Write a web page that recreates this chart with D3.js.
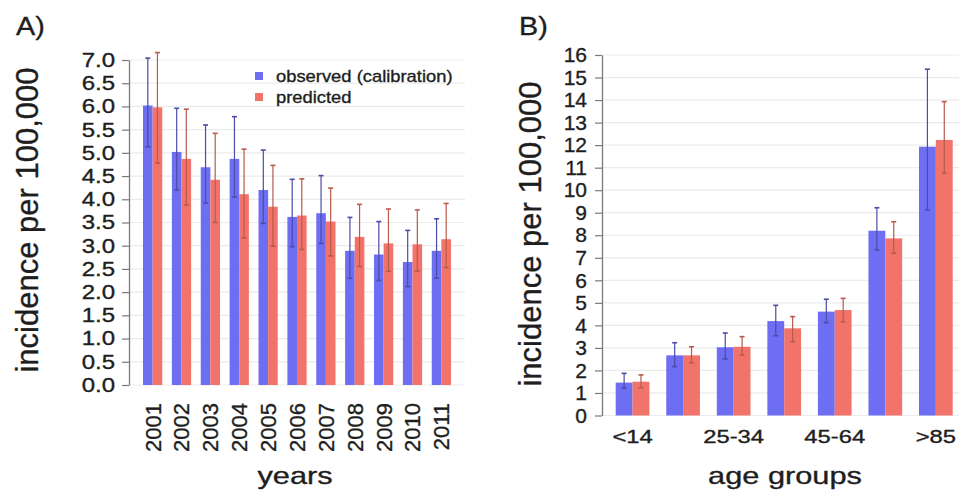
<!DOCTYPE html>
<html>
<head>
<meta charset="utf-8">
<script src="https://cdn.jsdelivr.net/npm/d3@7"></script>
<style>
  body { margin: 0; background: #fff; }
  svg { display: block; font-family: "Liberation Sans", Arial, sans-serif; }
  svg text { stroke: #1e1e1e; stroke-width: 0.35px; }
</style>
</head>
<body>
<div id="chart"></div>
<script>
// panel A: incidence by year
const years = ["2001", "2002", "2003", "2004", "2005", "2006", "2007", "2008", "2009", "2010", "2011"];
const yearObs   = [6.02, 5.02, 4.69, 4.87, 4.20, 3.62, 3.70, 2.89, 2.81, 2.65, 2.89];
const yearObsLo = [5.13, 4.20, 3.92, 4.05, 3.48, 2.98, 3.05, 2.30, 2.25, 2.12, 2.30];
const yearObsHi = [7.04, 5.96, 5.60, 5.78, 5.06, 4.43, 4.51, 3.61, 3.52, 3.33, 3.58];
const yearPred   = [5.98, 4.87, 4.42, 4.11, 3.84, 3.65, 3.52, 3.19, 3.05, 3.03, 3.14];
const yearPredLo = [4.78, 3.88, 3.50, 3.17, 2.99, 2.92, 2.78, 2.55, 2.45, 2.45, 2.53];
const yearPredHi = [7.16, 5.94, 5.42, 5.08, 4.73, 4.44, 4.24, 3.89, 3.79, 3.77, 3.91];
const yTicksA = [0, 0.5, 1, 1.5, 2, 2.5, 3, 3.5, 4, 4.5, 5, 5.5, 6, 6.5, 7];

// panel B: incidence by age group
const ageGroups = ["<14", "15-24", "25-34", "35-44", "45-64", "65-84", ">85"];
const ageShown  = ["<14", "25-34", "45-64", ">85"];
const ageObs   = [1.46, 2.67, 3.03, 4.19, 4.61, 8.20, 11.93];
const ageObsLo = [1.21, 2.17, 2.51, 3.54, 4.12, 7.35, 9.12];
const ageObsHi = [1.87, 3.23, 3.66, 4.89, 5.16, 9.22, 15.37];
const agePred   = [1.50, 2.67, 3.05, 3.87, 4.68, 7.86, 12.23];
const agePredLo = [1.23, 2.34, 2.69, 3.28, 4.16, 7.20, 10.75];
const agePredHi = [1.80, 3.05, 3.50, 4.39, 5.20, 8.60, 13.93];
const yTicksB = [0, 1, 2, 3, 4, 5, 6, 7, 8, 9, 10, 11, 12, 13, 14, 15, 16];

const seriesNames = ["observed (calibration)", "predicted"];
const barColors = ["#6e6ef2", "#f2736a"];
const errColors = ["#4c4ca8", "#b85a4c"];
const textColor = "#1e1e1e";

const W = 959, H = 496;
const svg = d3.select("#chart").append("svg")
  .attr("width", W)
  .attr("height", H);

// wide-looking text in the original: stretch glyphs horizontally
function widen(sel, k) {
  sel.each(function() {
    const len = this.getComputedTextLength();
    d3.select(this)
      .attr("textLength", len * k)
      .attr("lengthAdjust", "spacingAndGlyphs");
  });
}

function panel(cfg) {
  const g = svg.append("g");

  const y = d3.scaleLinear().domain(cfg.yDomain).range([cfg.bottom, cfg.top]);
  const x = d3.scaleBand()
    .domain(cfg.cats)
    .range([cfg.barLeft, cfg.barRight])
    .paddingInner(1 / 3)
    .paddingOuter(0);
  const inner = d3.scaleBand().domain([0, 1]).range([0, x.bandwidth()]);

  // grid
  g.append("g").selectAll("line")
    .data(cfg.yTicks)
    .join("line")
    .attr("x1", cfg.axisX + 1)
    .attr("x2", cfg.gridRight)
    .attr("y1", d => y(d))
    .attr("y2", d => y(d))
    .attr("stroke", "#ebebeb")
    .attr("stroke-width", 1.2);

  // bars
  const rows = cfg.cats.map((c, i) => ({
    cat: c,
    vals: cfg.series.map(s => ({ v: s.v[i], lo: s.lo[i], hi: s.hi[i] }))
  }));

  const grp = g.append("g").selectAll("g")
    .data(rows)
    .join("g")
    .attr("transform", d => `translate(${x(d.cat)},0)`);

  grp.selectAll("rect")
    .data(d => d.vals)
    .join("rect")
    .attr("x", (d, i) => inner(i))
    .attr("y", d => y(d.v))
    .attr("width", inner.bandwidth())
    .attr("height", d => y(0) - y(d.v))
    .attr("fill", (d, i) => barColors[i]);

  // error bars
  const eb = grp.selectAll("g.err")
    .data(d => d.vals)
    .join("g")
    .attr("class", "err")
    .attr("stroke", (d, i) => errColors[i])
    .attr("stroke-width", 1.2)
    .attr("transform", (d, i) => `translate(${inner(i) + inner.bandwidth() / 2},0)`);
  eb.append("line")
    .attr("y1", d => y(d.lo))
    .attr("y2", d => y(d.hi));
  eb.append("line")
    .attr("x1", -2.5).attr("x2", 2.5)
    .attr("y1", d => y(d.hi)).attr("y2", d => y(d.hi))
    .attr("stroke-width", 1.6);
  eb.append("line")
    .attr("x1", -2.5).attr("x2", 2.5)
    .attr("y1", d => y(d.lo)).attr("y2", d => y(d.lo))
    .attr("stroke-width", 1.6);

  // y axis
  const ya = g.append("g")
    .attr("transform", `translate(${cfg.axisX},0)`)
    .call(d3.axisLeft(y)
      .tickValues(cfg.yTicks)
      .tickFormat(cfg.yFormat)
      .tickSize(cfg.tickSize)
      .tickSizeOuter(0)
      .tickPadding(cfg.tickPad));
  ya.select(".domain").attr("stroke", "#7a7a7a").attr("stroke-width", 1.3);
  ya.selectAll(".tick line").attr("stroke", "#7a7a7a").attr("stroke-width", 1.2);
  ya.selectAll(".tick text")
    .attr("font-size", cfg.yTickFont)
    .attr("fill", textColor)
    .call(widen, cfg.yTickWiden);

  // x labels
  const xa = g.append("g")
    .attr("transform", `translate(0,${y(0)})`)
    .call(d3.axisBottom(x).tickSize(0).tickFormat(cfg.xFormat));
  xa.select(".domain").remove();
  const xt = xa.selectAll(".tick text")
    .attr("font-size", cfg.xTickFont)
    .attr("fill", textColor);
  if (cfg.rotate) {
    xt.attr("transform", "rotate(-90)")
      .attr("text-anchor", "end")
      .attr("x", -18)
      .attr("y", 0)
      .attr("dy", "0.36em");
  } else {
    xt.attr("y", cfg.xTickY).attr("dy", 0).call(widen, 1.32);
  }

  // axis titles
  g.append("text")
    .attr("transform", `translate(${cfg.yLabelX},${cfg.yLabelY}) rotate(-90)`)
    .attr("text-anchor", "middle")
    .attr("font-size", 31)
    .attr("fill", textColor)
    .text("incidence per 100,000");

  g.append("text")
    .attr("x", cfg.xLabelX)
    .attr("y", 484)
    .attr("text-anchor", "middle")
    .attr("font-size", 24)
    .attr("fill", textColor)
    .text(cfg.xLabel)
    .call(widen, 1.28);

  g.append("text")
    .attr("x", cfg.tagX)
    .attr("y", 35)
    .attr("font-size", 25)
    .attr("fill", textColor)
    .attr("stroke-width", 0.2)
    .text(cfg.tag)
    .call(widen, 1.15);

  return g;
}

const gA = panel({
  cats: years,
  series: [
    { v: yearObs, lo: yearObsLo, hi: yearObsHi },
    { v: yearPred, lo: yearPredLo, hi: yearPredHi }
  ],
  yDomain: [0, 7], yTicks: yTicksA, yFormat: d3.format(".1f"),
  top: 60, bottom: 385,
  barLeft: 143, barRight: 451,
  axisX: 129, gridRight: 465,
  tickSize: 7, tickPad: 7, yTickFont: 20, yTickWiden: 1.2,
  rotate: true, xTickFont: 22, xFormat: d => d,
  yLabelX: 38, yLabelY: 220,
  xLabel: "years", xLabelX: 295,
  tag: "A)", tagX: 16
});

panel({
  cats: ageGroups,
  series: [
    { v: ageObs, lo: ageObsLo, hi: ageObsHi },
    { v: agePred, lo: agePredLo, hi: agePredHi }
  ],
  yDomain: [0, 16], yTicks: yTicksB, yFormat: d3.format("d"),
  top: 55, bottom: 415.5,
  barLeft: 615.7, barRight: 952.7,
  axisX: 602, gridRight: 959,
  tickSize: 7, tickPad: 8, yTickFont: 21, yTickWiden: 1.0,
  rotate: false, xTickFont: 18, xTickY: 27.5,
  xFormat: d => ageShown.includes(d) ? d : "",
  yLabelX: 541, yLabelY: 234,
  xLabel: "age groups", xLabelX: 785,
  tag: "B)", tagX: 519
});

// legend (panel A)
const leg = gA.append("g").selectAll("g")
  .data(seriesNames)
  .join("g")
  .attr("transform", (d, i) => `translate(255,${76 + i * 21})`);
leg.append("rect")
  .attr("x", 0).attr("y", -4)
  .attr("width", 8).attr("height", 8)
  .attr("fill", (d, i) => barColors[i]);
leg.append("text")
  .attr("x", 21)
  .attr("y", 6)
  .attr("font-size", 17)
  .attr("fill", textColor)
  .text(d => d)
  .call(widen, 1.08);
</script>
</body>
</html>
